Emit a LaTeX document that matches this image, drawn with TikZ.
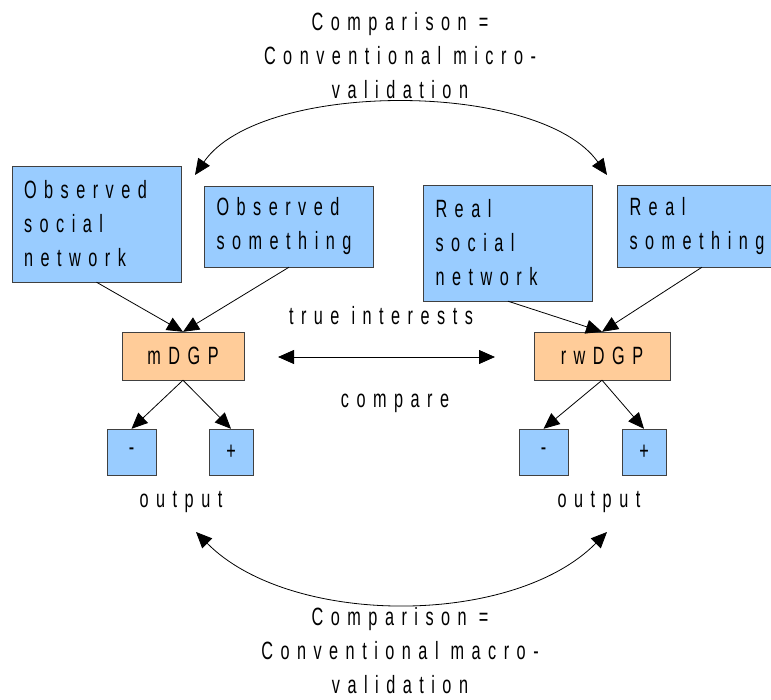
\documentclass[tikz,border=0pt]{standalone}
\usepackage{fontspec}
\setmainfont{Liberation Sans}[FakeStretch=0.65,LetterSpace=30]
\usetikzlibrary{arrows.meta, positioning}
\definecolor{boxblue}{HTML}{99CCFF}
\definecolor{boxorange}{HTML}{FFCC99}

\begin{document}
\begin{tikzpicture}[x=1pt,y=-1pt,>={Triangle[length=16pt,width=14pt]},
	every node/.style={font=\fontsize{25}{34}\selectfont},
	data/.style={draw=black!75,fill=boxblue,text width=145pt,align=left,inner xsep=12pt,inner ysep=0pt},
	dgp/.style={draw=black!75,fill=boxorange,minimum height=48pt,inner sep=0pt},
	sign/.style={draw=black!75,fill=boxblue,minimum height=46pt,inner sep=0pt},
	conn/.style={->,line width=0.8pt}]
		\useasboundingbox (0,0) rectangle (771,700);
		% model side
		\node[data,minimum height=116pt] (osn) at (96.5,224) {Observed\\social\\network};
		\node[data,minimum height=81pt] (osm) at (289,226.5) {Observed\\something};
		\node[dgp,minimum width=122pt] (mdgp) at (183,356) {mDGP};
		\node[sign,minimum width=49pt] (mminus) at (131.5,452) {-};
		\node[sign,minimum width=44pt] (mplus) at (231,452) {+};
		\node (mout) at (181,502) {output};
		% real world side
		\node[data,minimum height=116pt] (rsn) at (508,243) {Real\\social\\network};
		\node[data,minimum height=82pt] (rsm) at (702,226) {Real\\something};
		\node[dgp,minimum width=136pt] (rdgp) at (602,356) {rwDGP};
		\node[sign,minimum width=49pt] (rminus) at (543.5,452) {-};
		\node[sign,minimum width=44pt] (rplus) at (644,452) {+};
		\node (rout) at (599,502) {output};
		
		\draw[conn] (osn.south)--(mdgp.north);
		\draw[conn] (osm.south)--(mdgp.north);
		\draw[conn] (mdgp.south)--(mminus.north);
		\draw[conn] (mdgp.south)--(mplus.north);
		\draw[conn] (rsn.south)--(rdgp.north);
		\draw[conn] (rsm.south)--(rdgp.north);
		\draw[conn] (rdgp.south)--(rminus.north);
		\draw[conn] (rdgp.south)--(rplus.north);
		
		% compare arrow in the middle
		\node (interests) at (381,316) {true interests};
		\node (cmp) at (395,403) {compare};
		\coordinate (cmpL) at (278,357);
		\coordinate (cmpR) at (495,357);
		\draw[<->,line width=0.8pt] (cmpL)--(cmpR);
		
		% micro and macro validation
		\node[align=center] (micro) at (400,56) {Comparison =\\Conventional micro-\\validation};
		\coordinate (microL) at (195,175);
		\coordinate (microR) at (607,175);
		\draw[<->,line width=0.8pt] (microL) .. controls (260,80) and (540,80) .. (microR);
		\node[align=center] (macro) at (400,651) {Comparison =\\Conventional macro-\\validation};
		\coordinate (macroL) at (196,532);
		\coordinate (macroR) at (607,532);
		\draw[<->,line width=0.8pt] (macroL) .. controls (290,627) and (513,627) .. (macroR);
\end{tikzpicture}
\end{document}
